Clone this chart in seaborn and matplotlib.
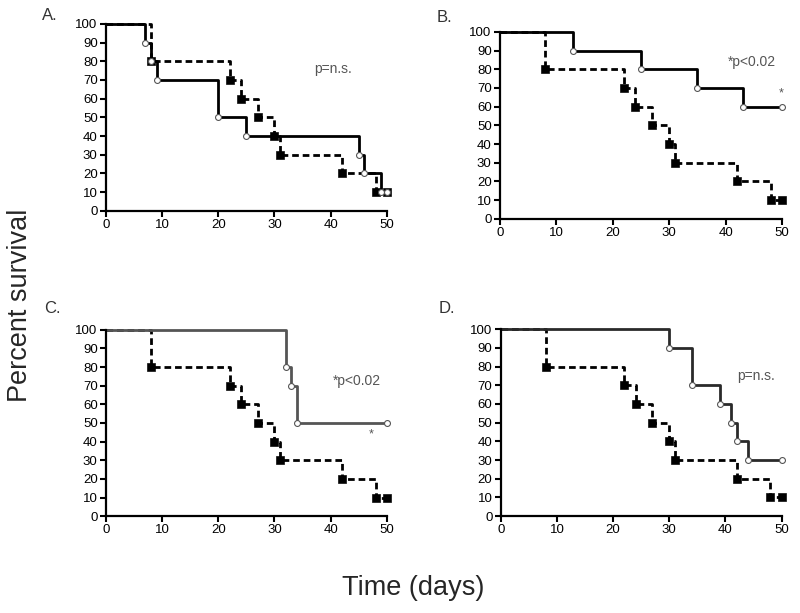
import numpy as np
import pandas as pd
import matplotlib
matplotlib.use('Agg')
import matplotlib.pyplot as plt
import seaborn as sns

sns.set_style('ticks')
plt.rcParams['font.family'] = ['Liberation Sans', 'DejaVu Sans']

# control group (dashed, filled squares) - same curve in every panel
ctrl_days = [0, 8, 22, 24, 27, 30, 31, 42, 48, 50]
ctrl_surv = [100, 80, 70, 60, 50, 40, 30, 20, 10, 10]

# treated groups (solid, open circles)
a_days = [0, 7, 8, 9, 20, 25, 45, 46, 49, 50]
a_surv = [100, 90, 80, 70, 50, 40, 30, 20, 10, 10]
b_days = [0, 13, 25, 35, 43, 50]
b_surv = [100, 90, 80, 70, 60, 60]
c_days = [0, 32, 33, 34, 50]
c_surv = [100, 80, 70, 50, 50]
d_days = [0, 30, 34, 39, 41, 42, 44, 50]
d_surv = [100, 90, 70, 60, 50, 40, 30, 30]

panel_names = ['A.', 'B.', 'C.', 'D.']
p_texts = ['p=n.s.', '*p<0.02', '*p<0.02', 'p=n.s.']
star_marks = [False, True, True, False]

treated = [(a_days, a_surv), (b_days, b_surv), (c_days, c_surv), (d_days, d_surv)]

# layout (figure fractions) and text spots (data coords)
axes_pos = [[0.1325, 0.656, 0.351, 0.305],
            [0.625, 0.643, 0.3525, 0.305],
            [0.1325, 0.158, 0.351, 0.304],
            [0.626, 0.158, 0.351, 0.305]]
label_pos = [(0.052, 0.975), (0.546, 0.972), (0.055, 0.497), (0.548, 0.497)]
p_pos = [(37, 76), (40.4, 84), (40.4, 72.5), (42, 75)]
star_pos = [None, (49.8, 67), (47.3, 44), None]
line_cols = ['black', 'black', '#555555', '#2a2a2a']

fig = plt.figure(figsize=(8, 6.13), dpi=100)

for i in range(4):
    ax = fig.add_axes(axes_pos[i])
    days, surv = treated[i]

    sns.lineplot(x=ctrl_days, y=ctrl_surv, drawstyle='steps-post', estimator=None, sort=False,
                 color='black', lw=2, linestyle=(0, (2.4, 1.4)), clip_on=False, ax=ax)
    sns.lineplot(x=days, y=surv, drawstyle='steps-post', estimator=None, sort=False,
                 color=line_cols[i], lw=2, clip_on=False, ax=ax)
    sns.scatterplot(x=ctrl_days[1:], y=ctrl_surv[1:], marker='s', s=32, color='black',
                    edgecolor='black', clip_on=False, zorder=4, ax=ax)
    sns.scatterplot(x=days[1:], y=surv[1:], marker='o', s=18, color='white',
                    edgecolor='#555555', linewidth=0.8, clip_on=False, zorder=5, ax=ax)

    ax.set_xlim(0, 50)
    ax.set_ylim(0, 100)
    ax.set_xticks(range(0, 51, 10))
    ax.set_yticks(range(0, 101, 10))
    ax.tick_params(direction='out', length=4, width=1.5, labelsize=9.5, pad=2, colors='black')
    for side in ['left', 'bottom']:
        ax.spines[side].set_linewidth(1.6)
        ax.spines[side].set_color('black')
    sns.despine(ax=ax)
    ax.set_xlabel('')
    ax.set_ylabel('')

    ax.text(p_pos[i][0], p_pos[i][1], p_texts[i], fontsize=10, color='#555555', va='center')
    if star_marks[i]:
        ax.text(star_pos[i][0], star_pos[i][1], '*', fontsize=9, color='#555555',
                ha='center', va='center')
    fig.text(label_pos[i][0], label_pos[i][1], panel_names[i], fontsize=12, color='#333333',
             va='center')

fig.text(0.025, 0.502, 'Percent survival', rotation=90, fontsize=19.5, va='center', ha='center')
fig.text(0.516, 0.04, 'Time (days)', fontsize=19.5, va='center', ha='center')

plt.savefig('out.png', dpi=100)
